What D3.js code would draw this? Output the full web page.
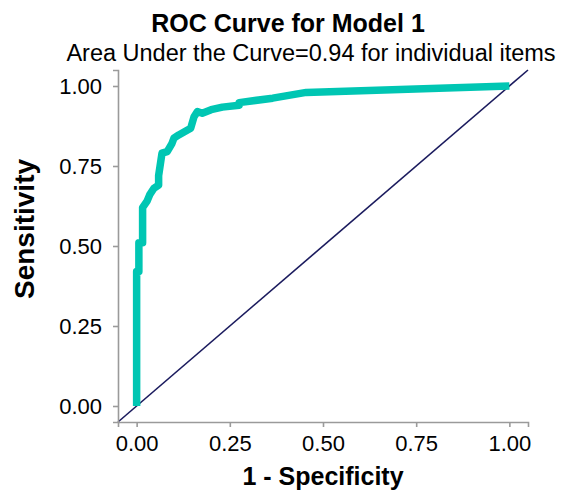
<!DOCTYPE html>
<html>
<head>
<meta charset="utf-8">
<script src="https://cdn.jsdelivr.net/npm/d3@7"></script>
<style>
  body { margin: 0; background: #fff; }
  svg text { font-family: "Liberation Sans", Arial, sans-serif; fill: #000; }
</style>
</head>
<body>
<svg id="chart" width="568" height="490"></svg>
<script>
// ROC points (1 - specificity, sensitivity)
var fpr = [0, 0, 0.006, 0.006, 0.016, 0.016, 0.028, 0.035, 0.046, 0.059, 0.059, 0.068, 0.082,
           0.095, 0.1, 0.113, 0.145, 0.154, 0.163, 0.176, 0.2, 0.23, 0.275, 0.275, 0.365, 0.455, 1];
var tpr = [0, 0.42, 0.42, 0.51, 0.51, 0.62, 0.64, 0.66, 0.68, 0.69, 0.72, 0.79, 0.795,
           0.821, 0.837, 0.847, 0.868, 0.904, 0.92, 0.915, 0.926, 0.934, 0.94, 0.948, 0.962, 0.98, 1];
var tickValues = [0, 0.25, 0.5, 0.75, 1];

var svg = d3.select('#chart');

// panel edges in pixels
var panel = {l: 118, r: 528, t: 70, b: 422};

var x = d3.scaleLinear().domain([-0.05, 1.05]).range([panel.l, panel.r]);
var y = d3.scaleLinear().domain([-0.05, 1.05]).range([panel.b, panel.t]);

var points = fpr.map(function(d, i) { return [d, tpr[i]]; });

// reference diagonal across the whole panel
svg.append('line')
    .attr('x1', x(-0.05)).attr('y1', y(-0.05))
    .attr('x2', x(1.05)).attr('y2', y(1.05))
    .attr('stroke', '#1b1b5e')
    .attr('stroke-width', 1.6);

svg.append('path')
    .datum(points)
    .attr('fill', 'none')
    .attr('stroke', '#00c6b3')
    .attr('stroke-width', 7.5)
    .attr('stroke-linejoin', 'round')
    .attr('d', d3.line().x(function(d) { return x(d[0]); }).y(function(d) { return y(d[1]); }));

var fmt = d3.format('.2f');

var xAxis = svg.append('g')
    .attr('transform', 'translate(0,' + panel.b + ')')
    .call(d3.axisBottom(x).tickValues(tickValues).tickFormat(fmt).tickSizeOuter(0).tickSize(5).tickPadding(8));
var yAxis = svg.append('g')
    .attr('transform', 'translate(' + panel.l + ',0)')
    .call(d3.axisLeft(y).tickValues(tickValues).tickFormat(fmt).tickSizeOuter(0).tickSize(5).tickPadding(11));

[xAxis, yAxis].forEach(function(g) {
    g.select('.domain').attr('stroke', '#9a9a9a').attr('stroke-width', 1.6);
    g.selectAll('.tick line').attr('stroke', '#9a9a9a').attr('stroke-width', 1.6);
    g.selectAll('.tick text').attr('font-size', 22).attr('fill', '#000')
        .attr('font-family', '"Liberation Sans", Arial, sans-serif');
});

svg.append('text')
    .attr('x', 288).attr('y', 32)
    .attr('text-anchor', 'middle')
    .attr('font-size', 25).attr('font-weight', 'bold')
    .text('ROC Curve for Model 1');

svg.append('text')
    .attr('x', 311).attr('y', 61)
    .attr('text-anchor', 'middle')
    .attr('font-size', 23.5)
    .text('Area Under the Curve=0.94 for individual items');

svg.append('text')
    .attr('x', 323).attr('y', 485)
    .attr('text-anchor', 'middle')
    .attr('font-size', 25).attr('font-weight', 'bold')
    .text('1 - Specificity');

svg.append('text')
    .attr('transform', 'translate(34,229) rotate(-90)')
    .attr('text-anchor', 'middle')
    .attr('font-size', 28).attr('font-weight', 'bold')
    .text('Sensitivity');
</script>
</body>
</html>
